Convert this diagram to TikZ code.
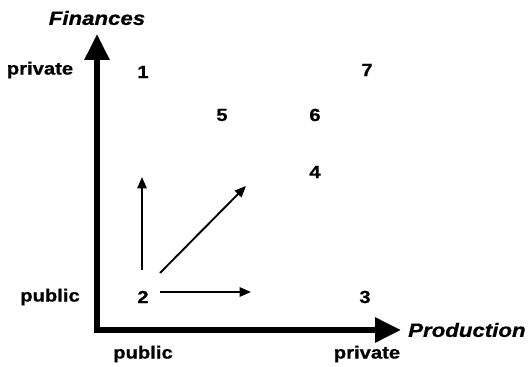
\documentclass[tikz,border=0pt]{standalone}
\usepackage{fontspec}
\setmainfont{Liberation Sans}[FakeStretch=1.15,
  BoldFeatures={FakeBold=0.8}, BoldItalicFeatures={FakeBold=0.8}]
\usetikzlibrary{arrows.meta}

\tikzset{
  lbl/.style={font=\bfseries\fontsize{15}{18}\selectfont, inner sep=0pt},
  axlbl/.style={font=\bfseries\itshape\fontsize{16.5}{19}\selectfont, inner sep=0pt},
  axis/.style={line width=5pt, -{Triangle[length=0.78cm, width=0.72cm]}},
  move/.style={line width=1.6pt, -{Triangle[length=0.34cm, width=0.28cm]}}
}

\begin{document}
\begin{tikzpicture}[x=0.03cm, y=0.03cm]
  \useasboundingbox (0,0) rectangle (529,367);

  % axes
  \coordinate (o) at (97,37);
  \coordinate (ytip) at (97,333);
  \coordinate (xtip) at (401,37);
  \draw[axis] ([yshift=-2.5pt]o) -- (ytip);
  \draw[axis] ([xshift=-2.5pt]o) -- (xtip);
  \node[axlbl] (fin) at (97,349) {Finances};
  \node[axlbl, anchor=west] (prod) at (408,37) {Production};

  % axis values
  \node[lbl] (ypriv) at (40,297) {private};
  \node[lbl] (ypub) at (50,70) {public};
  \node[lbl] (xpub) at (143,13) {public};
  \node[lbl] (xpriv) at (367,13) {private};

  % cases
  \node[lbl] (n1) at (143,295) {1};
  \node[lbl] (n2) at (143,70) {2};
  \node[lbl] (n3) at (365,70) {3};
  \node[lbl] (n4) at (315,195) {4};
  \node[lbl] (n5) at (222,252) {5};
  \node[lbl] (n6) at (315,252) {6};
  \node[lbl] (n7) at (367,297) {7};

  % moves away from 2
  \coordinate (up) at (142,190);
  \coordinate (diag) at (246,181);
  \coordinate (right) at (251,75);
  \draw[move] (142,97) -- (up);
  \draw[move] (160,94) -- (diag);
  \draw[move] (160,75) -- (right);
\end{tikzpicture}
\end{document}
